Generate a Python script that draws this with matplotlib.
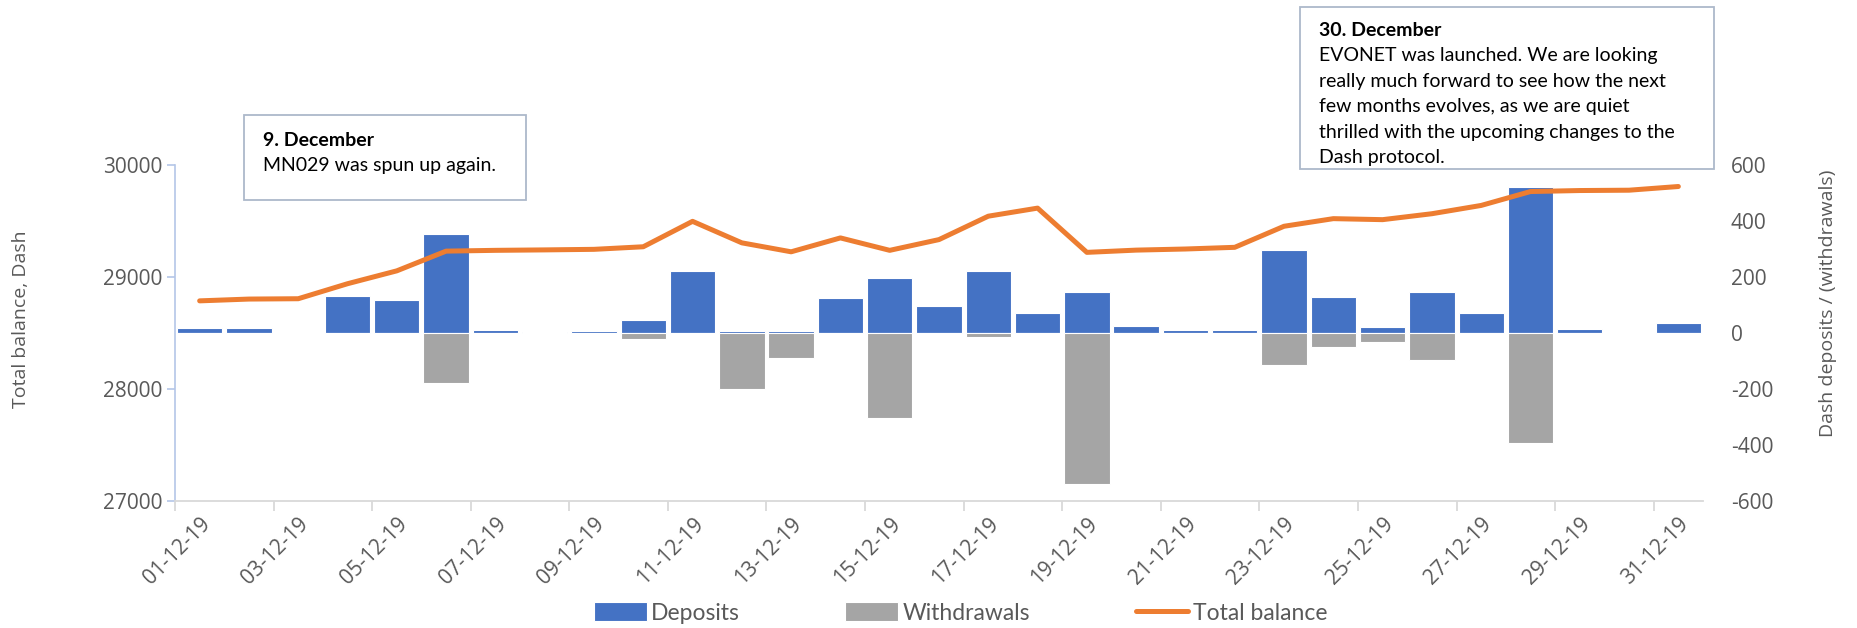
import numpy as np
import matplotlib
matplotlib.use('Agg')
import matplotlib.pyplot as plt
from matplotlib.patches import Rectangle

W, H = 1858, 628

days = [f'{d:02d}-12-19' for d in range(1, 32)]
deposits = [19, 18, 1, 133, 118, 355, 9, 5, 6, 46, 223, 8, 8, 124, 196, 96,
            221, 72, 148, 25, 11, 12, 296, 127, 22, 148, 71, 523, 15, 1, 34]
withdrawals = [0, 0, 0, 0, 0, -179, 0, 0, 0, -21, 0, -199, -88, 0, -305, 0,
               -13, 0, -538, 0, 0, 0, -113, -51, -33, -98, 0, -394, 0, 0, 0]
balance = [28787, 28803, 28806, 28940, 29055, 29231, 29238, 29242, 29247, 29270,
           29497, 29305, 29225, 29349, 29238, 29334, 29543, 29615, 29220, 29240,
           29250, 29265, 29453, 29521, 29512, 29565, 29639, 29763, 29772, 29775, 29808]

note1 = ['9. December', 'MN029 was spun up again.']
note2 = ['30. December', 'EVONET was launched. We are looking',
         'really much forward to see how the next',
         'few months evolves, as we are quiet',
         'thrilled with the upcoming changes to the',
         'Dash protocol.']

BLUE = '#4472C4'
GREY = '#A5A5A5'
ORANGE = '#ED7D31'
TXT = '#595959'
GRID = '#D9D9D9'
AXF = 'Open Sans'
NOTEF = 'Lato'

plt.rcParams['font.family'] = [AXF, 'DejaVu Sans']
plt.rcParams['axes.unicode_minus'] = False

fig = plt.figure(figsize=(W / 100, H / 100), dpi=100)
ax = fig.add_axes([175 / W, 1 - 501 / H, (1703 - 175) / W, (501 - 165) / H])
ax2 = ax.twinx()
ax.set_zorder(ax2.get_zorder() + 1)
ax.patch.set_visible(False)

x = np.arange(len(days))
ax2.bar(x, deposits, width=0.92, color=BLUE, edgecolor='white', linewidth=0.8, label='Deposits')
ax2.bar(x, withdrawals, width=0.92, color=GREY, edgecolor='white', linewidth=0.8, label='Withdrawals')
ax.plot(x, balance, color=ORANGE, linewidth=3.6, solid_capstyle='round',
        solid_joinstyle='round', label='Total balance')

ax.set_xlim(-0.5, len(days) - 0.5)
ax.set_ylim(27000, 30000)
ax.set_yticks(np.arange(27000, 30001, 1000))
ax2.set_ylim(-600, 600)
ax2.set_yticks(np.arange(-600, 601, 200))

# gridlines live on the bar axis so bars sit on top of them
ax2.set_yticks([-600, -200, 200, 600], minor=True)
ax2.grid(which='minor', axis='y', color=GRID, linewidth=1.3)
ax2.set_axisbelow(True)

ax.set_xticks(x[::2])
ax.set_xticklabels(days[::2])
ax.set_xticks(np.arange(-0.5, len(days) - 1, 2), minor=True)
ax.tick_params(axis='x', which='major', length=0, pad=9, labelsize=15, labelcolor=TXT)
ax.tick_params(axis='x', which='minor', length=7, width=1.3, color=GRID)
for lab in ax.get_xticklabels():
    lab.set_rotation(45)
    lab.set_ha('right')
    lab.set_va('top')
    lab.set_rotation_mode('anchor')

ax.tick_params(axis='y', which='major', length=6, width=1.2, color='#B4C6E7',
               labelsize=15, labelcolor=TXT, pad=3)
ax2.tick_params(axis='y', which='both', length=0, labelsize=15, labelcolor=TXT, pad=20)

for s in ['top', 'right']:
    ax.spines[s].set_visible(False)
ax.spines['left'].set_color('#B4C6E7')
ax.spines['left'].set_linewidth(1.2)
ax.spines['bottom'].set_color(GRID)
ax.spines['bottom'].set_linewidth(1.3)
for s in ax2.spines.values():
    s.set_visible(False)

fig.text(21 / W, 1 - 319 / H, 'Total balance, Dash', rotation=90, ha='center', va='center',
         fontsize=14, color=TXT)
fig.text(1828 / W, 1 - 303 / H, 'Dash deposits / (withdrawals)', rotation=90, ha='center',
         va='center', fontsize=14, color=TXT)


def note_box(x0, y0, x1, y1, tx, base0, step, lines):
    fig.add_artist(Rectangle((x0 / W, 1 - y1 / H), (x1 - x0) / W, (y1 - y0) / H,
                             transform=fig.transFigure, facecolor='white',
                             edgecolor='#ADB9CA', linewidth=1.3, zorder=5))
    for i, line in enumerate(lines):
        fig.text(tx / W, 1 - (base0 + i * step) / H, line, ha='left', va='baseline',
                 fontsize=14, family=NOTEF, color='black', zorder=6,
                 fontweight='bold' if i == 0 else 'normal')


note_box(244, 115, 526, 200, 263, 146, 24.5, note1)
note_box(1300, 7, 1714, 169, 1319, 36, 25.4, note2)

h1, l1 = ax2.get_legend_handles_labels()
h2, l2 = ax.get_legend_handles_labels()
fig.legend(h1 + h2, l1 + l2, loc='center', bbox_to_anchor=(0.517, 0.024), ncol=3,
           frameon=False, prop={'family': NOTEF, 'size': 16.5}, labelcolor=TXT,
           handlelength=2.3, handleheight=0.9, handletextpad=0.2, columnspacing=4.6)

fig.savefig('out.png', dpi=100, facecolor='white')
